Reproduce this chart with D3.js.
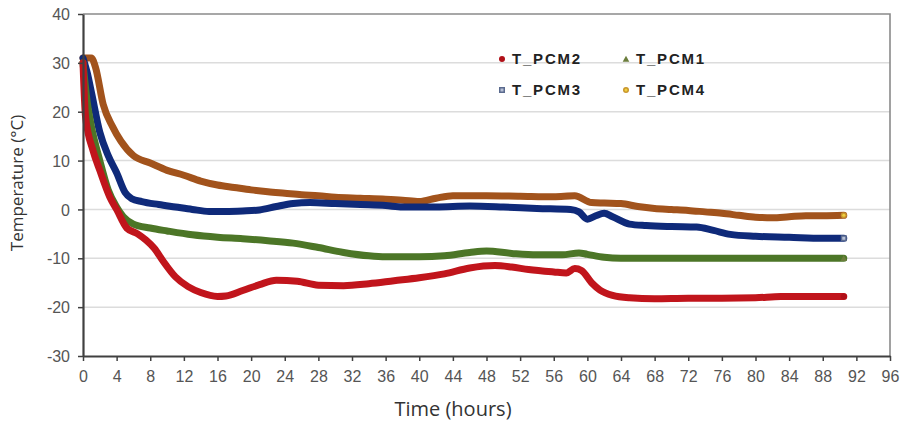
<!DOCTYPE html>
<html>
<head>
<meta charset="utf-8">
<script src="https://cdn.jsdelivr.net/npm/d3@7"></script>
<style>
  html, body { margin: 0; padding: 0; background: #fff; }
  svg { display: block; }
</style>
</head>
<body>
<svg id="chart" width="905" height="423"></svg>
<script>
// Hourly time axis and temperature axis ticks
const xTicks = d3.range(0, 97, 4);
const yTicks = [-30, -20, -10, 0, 10, 20, 30, 40];

// T_PCM2 (time in hours, temperature in °C)
const pcm2Time = [0, 0.3, 1.2, 2, 3.2, 4, 5.2, 6.5, 7.5, 8.5, 9.5, 11, 12.5, 14, 16, 17, 19, 21, 23, 25.5, 28, 31, 34, 37, 40, 43, 46, 49, 51, 53, 56, 57.5, 58.5, 59.3, 60.5, 61.5, 63, 65, 68, 72, 76, 80, 83, 88, 90.5];
const pcm2Temp = [30, 19, 12, 8, 2.5, 0, -3.8, -5, -6.3, -8, -10.5, -13.8, -15.8, -17, -17.8, -17.7, -16.6, -15.4, -14.5, -14.7, -15.5, -15.6, -15.2, -14.6, -14, -13.2, -12, -11.5, -11.8, -12.3, -12.8, -13, -12.1, -12.5, -15, -16.5, -17.6, -18.1, -18.3, -18.2, -18.2, -18.1, -17.8, -17.8, -17.8];

// T_PCM1
const pcm1Time = [0, 0.5, 1, 2, 3, 4, 4.8, 6, 8, 10, 13, 16, 19, 22, 25, 28, 31, 34, 36, 40, 43, 46, 48, 51, 54, 57, 59, 60, 62, 64, 70, 80, 90.5];
const pcm1Temp = [30, 22, 17, 10, 4, 0.5, -1.5, -3, -3.8, -4.4, -5.2, -5.7, -6, -6.4, -6.9, -7.8, -8.8, -9.5, -9.7, -9.7, -9.5, -8.8, -8.5, -9, -9.3, -9.3, -8.9, -9.2, -9.8, -10, -10, -10, -10];

// T_PCM3
const pcm3Time = [0, 0.5, 1, 2, 3, 4, 5, 5.8, 7, 9, 11, 13, 15, 17, 19, 21, 23, 25, 27, 30, 33, 36, 38, 42, 46, 50, 54, 58, 59, 60, 61, 62, 63, 65, 67, 70, 73, 75, 77, 80, 84, 88, 90.5];
const pcm3Temp = [31, 28, 24, 15.8, 11, 7.5, 3.5, 2.2, 1.6, 1, 0.5, 0, -0.4, -0.4, -0.3, -0.1, 0.6, 1.2, 1.4, 1.2, 1, 0.8, 0.5, 0.5, 0.7, 0.5, 0.2, 0, -0.5, -2, -1.3, -0.8, -1.5, -3, -3.3, -3.5, -3.6, -4.3, -5.1, -5.5, -5.7, -5.9, -5.9];

// T_PCM4
const pcm4Time = [0, 1, 1.5, 2.4, 3.5, 4.5, 6, 8, 10, 12, 14, 16, 18, 20, 22, 24, 26, 28, 30, 33, 36, 38, 40, 42, 44, 48, 52, 56, 58.5, 60.5, 62, 64, 66, 68, 70, 72, 74, 76, 78, 80, 82, 84, 86, 88, 90.5];
const pcm4Temp = [31, 31, 29, 21.5, 17, 14, 11, 9.5, 8, 7, 5.8, 5, 4.5, 4, 3.6, 3.3, 3, 2.8, 2.5, 2.3, 2.1, 1.9, 1.6, 2.3, 2.8, 2.8, 2.7, 2.6, 2.8, 1.4, 1.3, 1.2, 0.6, 0.2, 0, -0.2, -0.5, -0.8, -1.2, -1.6, -1.7, -1.5, -1.3, -1.3, -1.2];

const seriesNames = ["T_PCM2", "T_PCM1", "T_PCM3", "T_PCM4"];
const seriesTimes = [pcm2Time, pcm1Time, pcm3Time, pcm4Time];
const seriesTemps = [pcm2Temp, pcm1Temp, pcm3Temp, pcm4Temp];

// Styling per series (line colour, marker shape and fill)
const styles = {
  T_PCM2: { color: "#c1151c", marker: "circle", fill: "#b01018", inner: null },
  T_PCM1: { color: "#4c7627", marker: "triangle", fill: "#6b7d3c", inner: null },
  T_PCM3: { color: "#0f2a7a", marker: "square", fill: "#5a6a8e", inner: "#b7c0d6" },
  T_PCM4: { color: "#a2531c", marker: "circle", fill: "#c8952c", inner: "#f0d040" }
};

const svg = d3.select("#chart");
const plot = { left: 83, right: 890, top: 14, bottom: 356 };

const x = d3.scaleLinear().domain([0, 96]).range([plot.left, plot.right]);
const y = d3.scaleLinear().domain([-30, 40]).range([plot.bottom, plot.top]);

// Horizontal gridlines
svg.append("g")
  .selectAll("line")
  .data(yTicks.filter(v => v > -30 && v < 40))
  .join("line")
  .attr("x1", plot.left).attr("x2", plot.right)
  .attr("y1", d => y(d)).attr("y2", d => y(d))
  .attr("stroke", "#dcdcdc").attr("stroke-width", 1.5);

// Top and right frame
svg.append("path")
  .attr("d", `M${plot.left},${plot.top}H${plot.right}V${plot.bottom}`)
  .attr("fill", "none").attr("stroke", "#8a8a8a").attr("stroke-width", 1.6);

// Series lines
const line = d3.line()
  .x(d => x(d[0]))
  .y(d => y(d[1]))
  .curve(d3.curveMonotoneX);

const series = seriesNames.map((name, i) => ({
  name,
  points: seriesTimes[i].map((t, j) => [t, seriesTemps[i][j]])
}));

// draw order: PCM4 (back) ... PCM2
const drawOrder = ["T_PCM4", "T_PCM3", "T_PCM1", "T_PCM2"];
drawOrder.forEach(name => {
  const s = series.find(d => d.name === name);
  svg.append("path")
    .datum(s.points)
    .attr("d", line)
    .attr("fill", "none")
    .attr("stroke", styles[name].color)
    .attr("stroke-width", 7)
    .attr("stroke-linejoin", "round")
    .attr("stroke-linecap", "round");
});

function drawMarker(g, name, cx, cy, r) {
  const st = styles[name];
  if (st.marker === "circle") {
    g.append("circle").attr("cx", cx).attr("cy", cy).attr("r", r)
      .attr("fill", st.fill);
    if (st.inner) g.append("circle").attr("cx", cx).attr("cy", cy).attr("r", r * 0.5).attr("fill", st.inner);
  } else if (st.marker === "square") {
    g.append("rect").attr("x", cx - r).attr("y", cy - r).attr("width", 2 * r).attr("height", 2 * r)
      .attr("fill", st.fill);
    if (st.inner) g.append("rect").attr("x", cx - r * 0.5).attr("y", cy - r * 0.5).attr("width", r).attr("height", r).attr("fill", st.inner);
  } else {
    g.append("path")
      .attr("d", `M${cx},${cy - r * 1.1}L${cx + r * 1.1},${cy + r * 0.9}L${cx - r * 1.1},${cy + r * 0.9}Z`)
      .attr("fill", st.fill);
  }
}

// End-point markers
const endG = svg.append("g");
series.forEach(s => {
  const last = s.points[s.points.length - 1];
  drawMarker(endG, s.name, x(last[0]), y(last[1]), 3);
});

// Axes (plain hyphen for negatives)
const xAxis = d3.axisBottom(x).tickValues(xTicks).tickSize(5).tickSizeOuter(0).tickPadding(10)
  .tickFormat(d => String(d));
const yAxis = d3.axisLeft(y).tickValues(yTicks).tickSize(5).tickSizeOuter(0).tickPadding(8)
  .tickFormat(d => String(d));

const gx = svg.append("g").attr("transform", `translate(0,${plot.bottom})`).call(xAxis);
const gy = svg.append("g").attr("transform", `translate(${plot.left},0)`).call(yAxis);

[gx, gy].forEach(g => {
  g.select(".domain").attr("stroke", "#404040").attr("stroke-width", 2.2);
  g.selectAll(".tick line").attr("stroke", "#404040").attr("stroke-width", 1.5);
  g.selectAll(".tick text")
    .attr("fill", "#555")
    .style("font-family", "'Liberation Sans', Arial, sans-serif")
    .style("font-size", "16px");
});
gy.selectAll(".tick text").attr("dy", "0.35em");

// Axis titles
svg.append("text")
  .attr("x", 453)
  .attr("y", 416)
  .attr("text-anchor", "middle")
  .attr("fill", "#333")
  .style("font-family", "'Open Sans', sans-serif")
  .style("font-size", "20px")
  .text("Time (hours)");

svg.append("text")
  .attr("transform", `translate(23,183) rotate(-90)`)
  .attr("text-anchor", "middle")
  .attr("fill", "#333")
  .style("font-family", "'Open Sans', sans-serif")
  .style("font-size", "17px")
  .text("Temperature (°C)");

// Legend (2 x 2)
const legendPos = [
  { name: "T_PCM2", mx: 502, my: 59 },
  { name: "T_PCM1", mx: 626, my: 59 },
  { name: "T_PCM3", mx: 502, my: 90 },
  { name: "T_PCM4", mx: 626, my: 90 }
];
const lg = svg.append("g");
legendPos.forEach(p => {
  drawMarker(lg, p.name, p.mx, p.my, 3);
  lg.append("text")
    .attr("x", p.mx + 10)
    .attr("y", p.my)
    .attr("dy", "0.36em")
    .attr("fill", "#222")
    .style("font-family", "'Liberation Sans', Arial, sans-serif")
    .style("font-size", "15px")
    .style("font-weight", "bold")
    .style("letter-spacing", "1.8px")
    .text(p.name);
});
</script>
</body>
</html>
